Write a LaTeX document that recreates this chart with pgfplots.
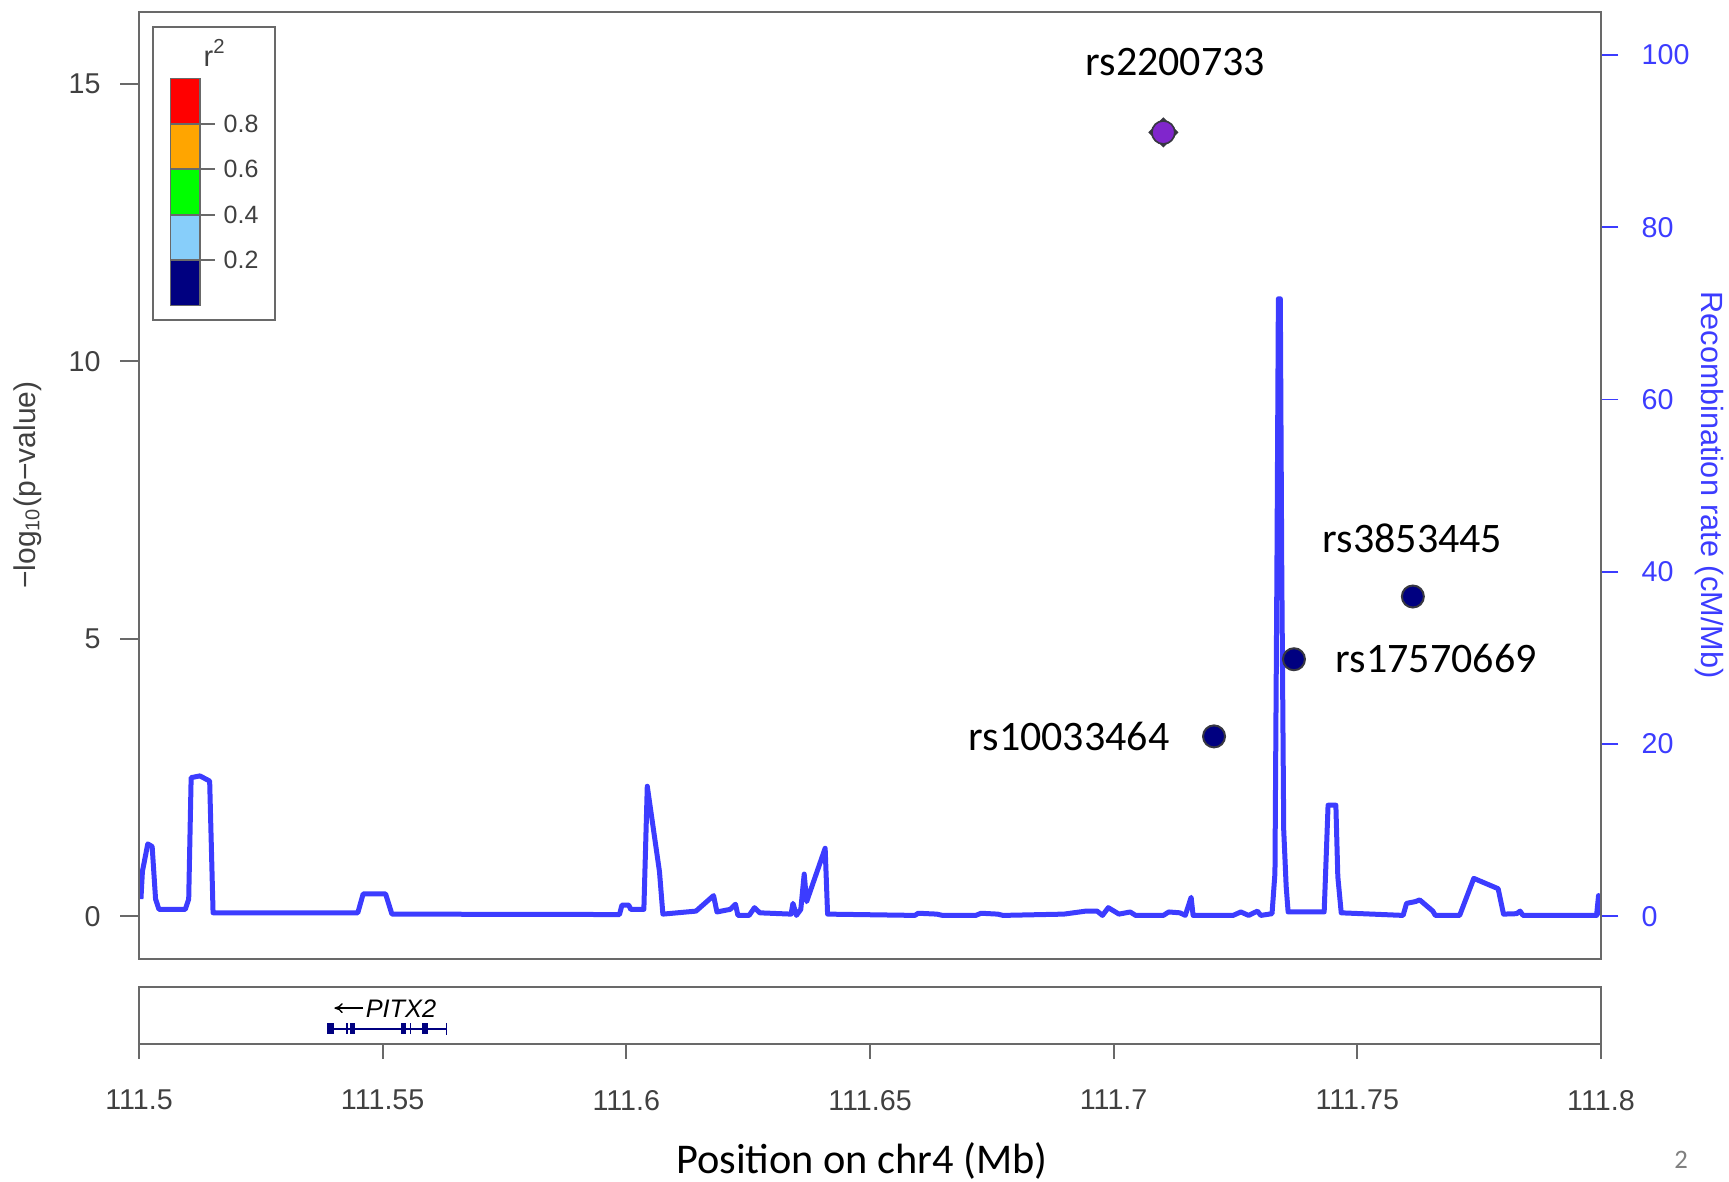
\documentclass[border=0pt]{standalone}
\usepackage{fontspec}
\setmainfont{Liberation Sans}
\newfontfamily\calfont{Carlito}
\usepackage{pgfplots}
\pgfplotsset{compat=1.18}
\usetikzlibrary{arrows.meta}
\definecolor{recblue}{RGB}{60,60,255}
\definecolor{axgray}{RGB}{105,105,105}
\definecolor{txtgray}{RGB}{64,64,64}
\definecolor{navypt}{RGB}{0,0,128}
\definecolor{purp}{RGB}{128,38,204}
\definecolor{ptedge}{RGB}{55,55,65}
\definecolor{skyb}{RGB}{135,206,250}
\definecolor{orng}{RGB}{255,165,0}
\definecolor{grn}{RGB}{0,255,0}
\tikzset{px/.style={shift={(-41.7pt,287.7pt)}, x=0.3pt, y=-0.3pt}}
\pgfplotstableread{
x y
111.5004 2.0
111.5007 5.2
111.5018 8.4
111.5027 8.1
111.5034 2.0
111.5041 0.8
111.5095 0.8
111.5102 2.0
111.5107 16.1
111.5125 16.3
111.5145 15.7
111.5152 0.4
111.5449 0.4
111.5460 2.6
111.5506 2.6
111.5519 0.25
111.5986 0.2
111.5991 1.3
111.6005 1.3
111.6009 0.8
111.6036 0.8
111.6043 15.1
111.6068 5.2
111.6075 0.25
111.6143 0.6
111.6179 2.4
111.6186 0.5
111.6213 0.8
111.6224 1.4
111.6229 0.1
111.6252 0.1
111.6263 1.0
111.6274 0.4
111.6338 0.25
111.6342 1.5
111.6349 0.1
111.6358 0.8
111.6365 4.9
111.6370 1.7
111.6408 7.9
111.6413 0.25
111.6592 0.1
111.6599 0.35
111.6637 0.25
111.6649 0.1
111.6717 0.1
111.6728 0.35
111.6762 0.25
111.6773 0.1
111.6898 0.25
111.6943 0.6
111.6966 0.6
111.6977 0.1
111.6989 1.0
111.7011 0.25
111.7034 0.5
111.7045 0.1
111.7102 0.1
111.7113 0.5
111.7136 0.4
111.7147 0.1
111.7159 2.2
111.7163 0.1
111.7245 0.1
111.7261 0.5
111.7277 0.1
111.7295 0.6
111.7302 0.1
111.7325 0.3
111.7331 5
111.7335 40
111.7338 71.7
111.7342 71.7
111.7345 40
111.7349 10
111.7354 3.5
111.7358 0.5
111.7432 0.5
111.7440 12.9
111.7456 12.9
111.7460 4.6
111.7467 0.4
111.7594 0.1
111.7601 1.5
111.7619 1.7
111.7628 1.9
111.7655 0.6
111.7660 0.1
111.7710 0.1
111.7739 4.4
111.7789 3.2
111.7800 0.25
111.7827 0.3
111.7834 0.6
111.7840 0.1
111.7991 0.1
111.7995 2.4
111.7998 0.1
}\recomb
\begin{document}
\begin{tikzpicture}
\path[px, use as bounding box] (0,0) rectangle (1729,1182);
% recombination rate (right axis)
\begin{axis}[
  at={(0,0)}, anchor=south west,
  scale only axis, width=438.6pt, height=284.1pt,
  xmin=111.5, xmax=111.8, ymin=-4.96, ymax=105.0,
  axis x line=none, axis y line*=right,
  ytick={0,20,40,60,80,100},
  tick align=outside, major tick length=5.2pt,
  /pgf/number format/assume math mode=true,
  yticklabel style={font=\fontsize{8.6}{10}\selectfont, text=recblue, xshift=3.5pt},
  axis line style={axgray, line width=0.6pt},
  every tick/.style={recblue, line width=0.5pt},
]
\addplot[recblue, line width=1.5pt, line join=round] table[x=x,y=y] {\recomb};
\end{axis}
% main association axis
\begin{axis}[
  at={(0,0)}, anchor=south west,
  scale only axis, width=438.6pt, height=284.1pt,
  xmin=111.5, xmax=111.8, ymin=-0.77, ymax=16.29,
  xtick=\empty, ytick={0,5,10,15}, ytick pos=left,
  tick align=outside, major tick length=5.7pt,
  /pgf/number format/assume math mode=true,
  yticklabel style={font=\fontsize{8.6}{10}\selectfont, text=txtgray, xshift=-2.3pt},
  axis line style={axgray, line width=0.6pt},
  every tick/.style={axgray, line width=0.6pt},
]
\addplot[only marks, mark=square*, mark size=3.0pt,
  mark options={rotate=45, fill=ptedge, draw=ptedge}] coordinates {(111.7102,14.12)};
\addplot[only marks, mark=*, mark size=3.45pt,
  mark options={fill=purp, draw=ptedge, line width=0.5pt}] coordinates {(111.7102,14.12)};
\addplot[only marks, mark=*, mark size=3.3pt,
  mark options={fill=navypt, draw=ptedge, line width=0.6pt}] coordinates {
  (111.7614,5.76) (111.7370,4.63) (111.7206,3.24)};
\end{axis}
% gene panel
\begin{axis}[
  at={(0,-8.4pt)}, anchor=north west,
  scale only axis, width=438.6pt, height=17.1pt,
  xmin=111.5, xmax=111.8, ymin=0, ymax=1,
  ytick=\empty,
  xtick={111.5,111.55,111.6,111.65,111.7,111.75,111.8},
  xticklabels={111.5,111.55,111.6,111.65,111.7,111.75,111.8},
  xtick pos=bottom, tick align=outside, major tick length=4.5pt,
  xticklabel style={font=\fontsize{8.6}{10}\selectfont, text=txtgray, yshift=-5.8pt},
  axis line style={axgray, line width=0.6pt},
  every tick/.style={axgray, line width=0.6pt},
]
\addplot[navypt, line width=0.5pt] coordinates {(111.5386,0.258) (111.5631,0.258)};
\fill[navypt] (axis cs:111.5386,0.175) rectangle (axis cs:111.5400,0.368);
\fill[navypt] (axis cs:111.5425,0.175) rectangle (axis cs:111.5429,0.368);
\fill[navypt] (axis cs:111.5434,0.175) rectangle (axis cs:111.5444,0.368);
\fill[navypt] (axis cs:111.5537,0.175) rectangle (axis cs:111.5547,0.368);
\fill[navypt] (axis cs:111.5556,0.175) rectangle (axis cs:111.5559,0.368);
\fill[navypt] (axis cs:111.5580,0.175) rectangle (axis cs:111.5593,0.368);
\draw[navypt, line width=0.5pt] (axis cs:111.5631,0.16) -- (axis cs:111.5631,0.37);
\draw[black, line width=0.4pt, -{To[length=2.5pt,width=3pt]}] (axis cs:111.5460,0.63) -- (axis cs:111.5401,0.63);
\node[anchor=west, inner sep=0pt, font=\fontsize{7.6}{9}\selectfont\itshape] at (axis cs:111.5464,0.614) {PITX2};
\end{axis}
% annotations, legend, titles
\begin{scope}[px]
  % legend
  \draw[axgray, line width=0.5pt] (153.3,27.3) rectangle (275,320);
  \fill[red] (170.7,78.3) rectangle (200,124);
  \fill[orng] (170.7,124) rectangle (200,169);
  \fill[grn] (170.7,169) rectangle (200,215);
  \fill[skyb] (170.7,215) rectangle (200,260);
  \fill[navypt] (170.7,260) rectangle (200,305.7);
  \foreach \yy in {78.3,124,169,215,260,305.7} \draw[axgray, line width=0.4pt] (170.7,\yy) -- (200,\yy);
  \draw[axgray, line width=0.4pt] (170.7,78.3) -- (170.7,305.7) (200,78.3) -- (200,305.7);
  \foreach \yy/\lab in {124/0.8,169/0.6,215/0.4,260/0.2} {
    \draw[axgray, line width=0.4pt] (200,\yy) -- (215,\yy);
    \node[anchor=west, inner sep=0pt, text=txtgray, font=\fontsize{7.5}{9}\selectfont] at (223,\yy) {\lab};
  }
  \node[anchor=base, inner sep=0pt, text=txtgray, font=\fontsize{8.7}{10}\selectfont] at (215,66.7) {r\textsuperscript{2}};
  % SNP labels
  \node[inner sep=0pt, font=\fontsize{12.6}{14}\calfont] at (1175.4,61.7) {rs2200733};
  \node[inner sep=0pt, font=\fontsize{12.6}{14}\calfont] at (1412.5,538) {rs3853445};
  \node[anchor=west, inner sep=0pt, font=\fontsize{12.6}{14}\calfont] at (1335.3,658.3) {rs17570669};
  \node[anchor=east, inner sep=0pt, font=\fontsize{12.6}{14}\calfont] at (1170,736.6) {rs10033464};
  % axis titles
  \node[rotate=90, inner sep=0pt, text=txtgray, font=\fontsize{9}{10}\selectfont] at (28,485) {−log\textsubscript{10}(p−value)};
  \node[rotate=-90, inner sep=0pt, text=recblue, font=\fontsize{9.2}{10}\selectfont] at (1709,485) {Recombination rate (cM/Mb)};
  \node[inner sep=0pt, font=\fontsize{12.7}{14}\calfont] at (862,1161) {Position on chr4 (Mb)};
  \node[inner sep=0pt, text=gray, font=\fontsize{8}{9}\calfont] at (1681,1160) {2};
\end{scope}
\end{tikzpicture}
\end{document}
